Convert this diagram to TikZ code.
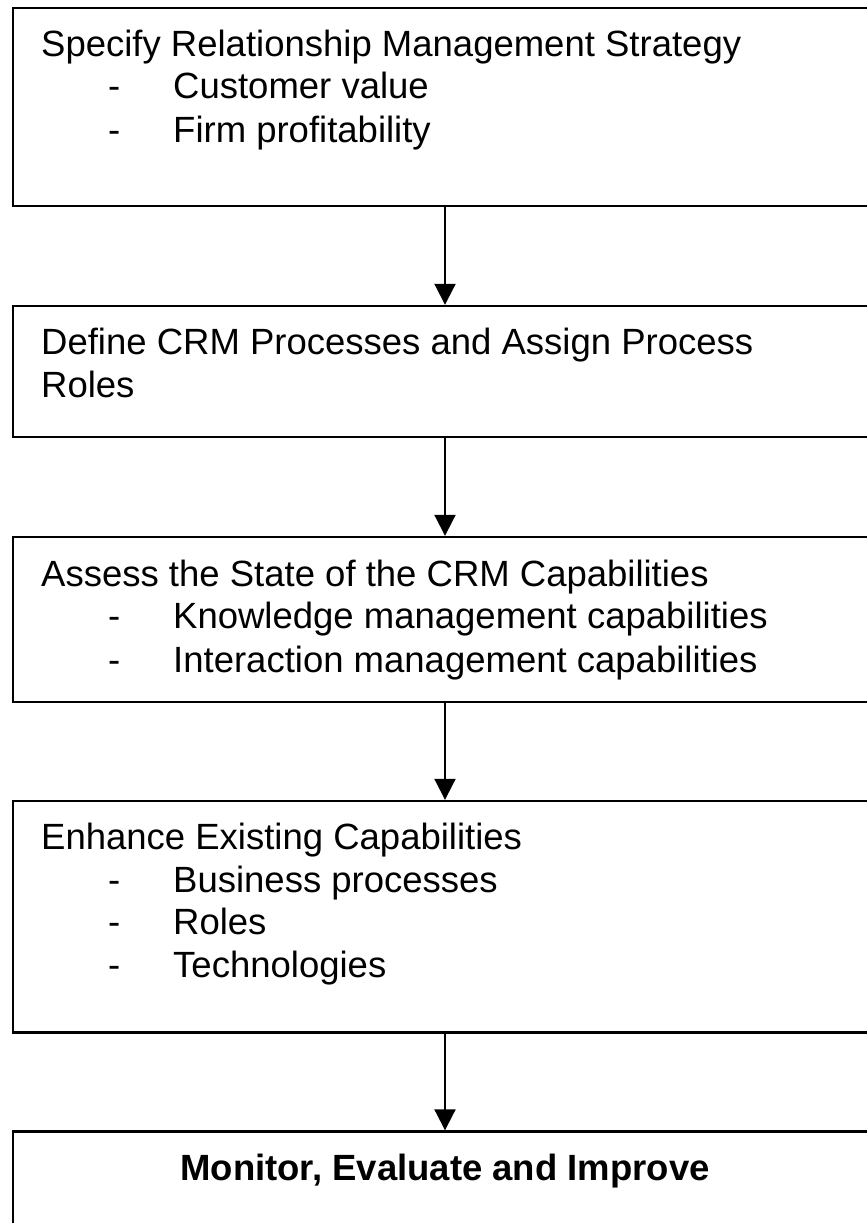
\documentclass[tikz,border=0pt]{standalone}
\usepackage{fontspec}
\setmainfont{Liberation Sans}
\usetikzlibrary{arrows.meta}
\tikzset{
  stage/.style={draw, line width=2.4pt, minimum width=864pt, inner sep=0pt},
  txt/.style={anchor=base west, inner sep=0pt, font=\fontsize{36.5}{42.6}\selectfont},
  flow/.style={line width=2pt, -{Triangle[length=21pt,width=21pt]}}
}
\begin{document}
\begin{tikzpicture}[x=1pt,y=-1pt]
    \useasboundingbox (0,0) rectangle (867,1223);
    \clip (0,0) rectangle (867,1223);
    \node[stage, minimum height=198pt] (s1) at (445,107) {};
    \node[stage, minimum height=131pt] (s2) at (445,371.5) {};
    \node[stage, minimum height=165pt] (s3) at (445,619.5) {};
    \node[stage, minimum height=231.5pt] (s4) at (445,916.75) {};
    \node[stage, minimum height=180pt] (s5) at (445,1221.5) {};
    \draw[flow] (s1) -- (s2);
    \draw[flow] (s2) -- (s3);
    \draw[flow] (s3) -- (s4);
    \draw[flow] (s4) -- (s5);
    % headings
    \node[txt] (h1) at (41,57) {Specify Relationship Management Strategy};
    \node[txt, align=left] (h2) at (41,397) {Define CRM Processes and Assign Process\\Roles};
    \node[txt] (h3) at (41,586) {Assess the State of the CRM Capabilities};
    \node[txt] (h4) at (41,849) {Enhance Existing Capabilities};
    \node[txt, anchor=base, font=\fontsize{36.5}{42.6}\selectfont\bfseries] (h5) at (445,1180) {Monitor, Evaluate and Improve};
    % bullet lines
    \foreach \y/\t [count=\i] in {99/Customer value, 142/Firm profitability} {
      \node[txt] (d1\i) at (108,\y) {-};
      \node[txt] (b1\i) at (173,\y) {\t};
    }
    \foreach \y/\t [count=\i] in {628/Knowledge management capabilities, 672/Interaction management capabilities} {
      \node[txt] (d3\i) at (108,\y) {-};
      \node[txt] (b3\i) at (173,\y) {\t};
    }
    \foreach \y/\t [count=\i] in {892/Business processes, 934/Roles, 977/Technologies} {
      \node[txt] (d4\i) at (108,\y) {-};
      \node[txt] (b4\i) at (173,\y) {\t};
    }
\end{tikzpicture}
\end{document}
